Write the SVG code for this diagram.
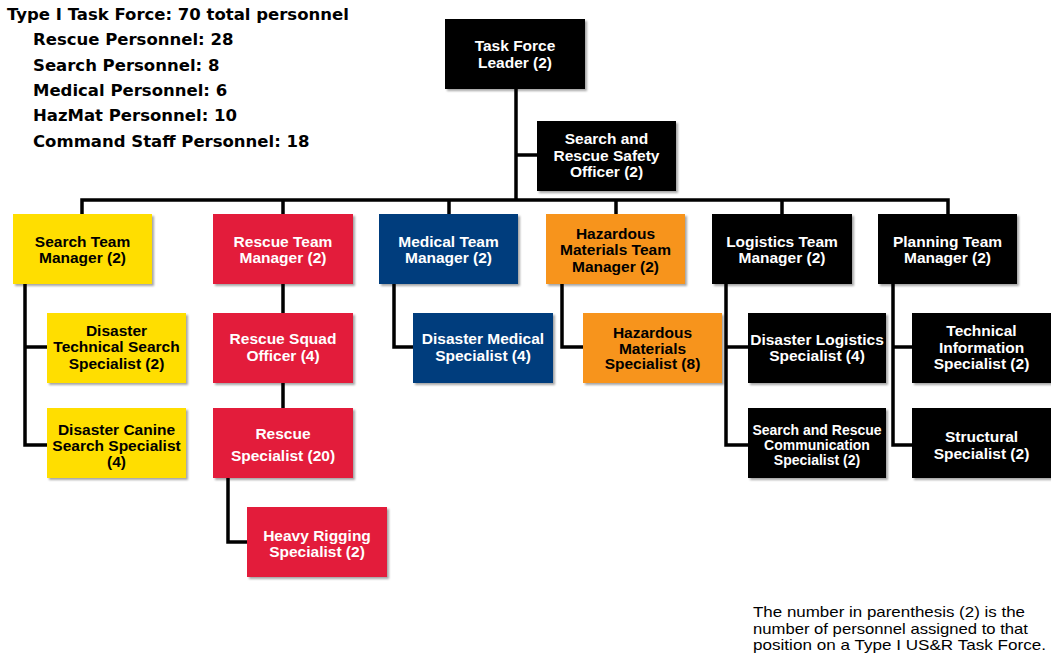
<svg xmlns="http://www.w3.org/2000/svg" width="1051" height="660" viewBox="0 0 1051 660">
<defs>
<filter id="sh" x="-5%" y="-5%" width="115%" height="120%">
<feDropShadow dx="2" dy="2" stdDeviation="1.2" flood-color="#000" flood-opacity="0.35"/>
</filter>
</defs>
<style>
.box{filter:url(#sh)}
.y{fill:#FFDE00}.r{fill:#E31B3B}.b{fill:#063D7D}.o{fill:#F7941E}.k{fill:#000}
text{font-family:"Liberation Sans",Arial,sans-serif;font-weight:bold;font-size:15.5px;text-anchor:middle}
.wt{fill:#fff}.bt{fill:#000}
.lg{font-family:"DejaVu Sans",sans-serif;font-weight:bold;font-size:16.5px;text-anchor:start;fill:#000}
.fn{font-family:"Liberation Sans",Arial,sans-serif;font-weight:normal;font-size:14.3px;text-anchor:start;fill:#000}
.c{fill:none;stroke:#000;stroke-width:3.5;stroke-linejoin:miter}
</style>
<rect width="1051" height="660" fill="#fff"/>

<g id="legend">
<text class="lg" x="7" y="20">Type I Task Force: 70 total personnel</text>
<text class="lg" x="33" y="45">Rescue Personnel: 28</text>
<text class="lg" x="33" y="70.5">Search Personnel: 8</text>
<text class="lg" x="33" y="95.5">Medical Personnel: 6</text>
<text class="lg" x="33" y="121">HazMat Personnel: 10</text>
<text class="lg" x="33" y="146.5">Command Staff Personnel: 18</text>
</g>

<g id="connectors" class="c">
<path d="M516 89V200"/>
<path d="M516 155H537"/>
<path d="M82 214V200H948V214"/>
<path d="M283 200V214M449 200V214M616 200V214M782 200V214"/>
<path d="M25 284V445H47M25 347H47"/>
<path d="M283 284V313M283 383V408"/>
<path d="M228 478V542H247"/>
<path d="M394 284V347H413"/>
<path d="M562 284V347H583"/>
<path d="M726 284V445H748M726 347H748"/>
<path d="M893 284V445H912M893 347H912"/>
</g>

<g id="task-force-leader"><rect class="box k" x="445" y="19" width="140" height="70"/>
<text class="wt" x="515" y="50.5">Task Force</text><text class="wt" x="515" y="67.5">Leader (2)</text></g>

<g id="safety-officer"><rect class="box k" x="537" y="121" width="139" height="70"/>
<text class="wt" x="606.5" y="144">Search and</text><text class="wt" x="606.5" y="160.5">Rescue Safety</text><text class="wt" x="606.5" y="177">Officer (2)</text></g>

<g id="search-team-manager"><rect class="box y" x="13" y="214" width="139" height="70"/>
<text class="bt" x="82.5" y="246.5">Search Team</text><text class="bt" x="82.5" y="263">Manager (2)</text></g>

<g id="rescue-team-manager"><rect class="box r" x="213" y="214" width="140" height="70"/>
<text class="wt" x="283" y="246.5">Rescue Team</text><text class="wt" x="283" y="263">Manager (2)</text></g>

<g id="medical-team-manager"><rect class="box b" x="379" y="214" width="139" height="70"/>
<text class="wt" x="448.5" y="246.5">Medical Team</text><text class="wt" x="448.5" y="263">Manager (2)</text></g>

<g id="hazmat-team-manager"><rect class="box o" x="546" y="214" width="139" height="70"/>
<text class="bt" x="615.5" y="238.5">Hazardous</text><text class="bt" x="615.5" y="255">Materials Team</text><text class="bt" x="615.5" y="271.5">Manager (2)</text></g>

<g id="logistics-team-manager"><rect class="box k" x="712" y="214" width="140" height="70"/>
<text class="wt" x="782" y="246.5">Logistics Team</text><text class="wt" x="782" y="263">Manager (2)</text></g>

<g id="planning-team-manager"><rect class="box k" x="878" y="214" width="139" height="70"/>
<text class="wt" x="947.5" y="246.5">Planning Team</text><text class="wt" x="947.5" y="263">Manager (2)</text></g>

<g id="technical-search-specialist"><rect class="box y" x="47" y="313" width="139" height="70"/>
<text class="bt" x="116.5" y="335.5">Disaster</text><text class="bt" x="116.5" y="352">Technical Search</text><text class="bt" x="116.5" y="368.5">Specialist (2)</text></g>

<g id="canine-search-specialist"><rect class="box y" x="47" y="408" width="139" height="70"/>
<text class="bt" x="116.5" y="434.5">Disaster Canine</text><text class="bt" x="116.5" y="450.5">Search Specialist</text><text class="bt" x="116.5" y="466.5">(4)</text></g>

<g id="rescue-squad-officer"><rect class="box r" x="213" y="313" width="140" height="70"/>
<text class="wt" x="283" y="344">Rescue Squad</text><text class="wt" x="283" y="360.5">Officer (4)</text></g>

<g id="rescue-specialist"><rect class="box r" x="213" y="408" width="140" height="70"/>
<text class="wt" x="283" y="438.5">Rescue</text><text class="wt" x="283" y="460.5">Specialist (20)</text></g>

<g id="heavy-rigging-specialist"><rect class="box r" x="247" y="507" width="140" height="70"/>
<text class="wt" x="317" y="540.5">Heavy Rigging</text><text class="wt" x="317" y="557">Specialist (2)</text></g>

<g id="medical-specialist"><rect class="box b" x="413" y="313" width="140" height="70"/>
<text class="wt" x="483" y="344">Disaster Medical</text><text class="wt" x="483" y="360.5">Specialist (4)</text></g>

<g id="hazmat-specialist"><rect class="box o" x="583" y="313" width="139" height="70"/>
<text class="bt" x="652.5" y="338">Hazardous</text><text class="bt" x="652.5" y="353.5">Materials</text><text class="bt" x="652.5" y="369">Specialist (8)</text></g>

<g id="logistics-specialist"><rect class="box k" x="748" y="313" width="138" height="70"/>
<text class="wt" x="817" y="344.5">Disaster Logistics</text><text class="wt" x="817" y="361">Specialist (4)</text></g>

<g id="communication-specialist"><rect class="box k" x="748" y="408" width="138" height="70"/>
<text class="wt" x="817" y="434.5" style="font-size:14px">Search and Rescue</text><text class="wt" x="817" y="450" style="font-size:14px">Communication</text><text class="wt" x="817" y="465" style="font-size:14px">Specialist (2)</text></g>

<g id="technical-information-specialist"><rect class="box k" x="912" y="313" width="139" height="70"/>
<text class="wt" x="981.5" y="336">Technical</text><text class="wt" x="981.5" y="352.5">Information</text><text class="wt" x="981.5" y="369">Specialist (2)</text></g>

<g id="structural-specialist"><rect class="box k" x="912" y="408" width="139" height="70"/>
<text class="wt" x="981.5" y="442">Structural</text><text class="wt" x="981.5" y="459">Specialist (2)</text></g>

<g id="footnote">
<text class="fn" x="753" y="617" textLength="272" lengthAdjust="spacingAndGlyphs">The number in parenthesis (2) is the</text>
<text class="fn" x="753" y="633.5" textLength="275" lengthAdjust="spacingAndGlyphs">number of personnel assigned to that</text>
<text class="fn" x="753" y="650" textLength="293" lengthAdjust="spacingAndGlyphs">position on a Type I US&amp;R Task Force.</text>
</g>
</svg>
